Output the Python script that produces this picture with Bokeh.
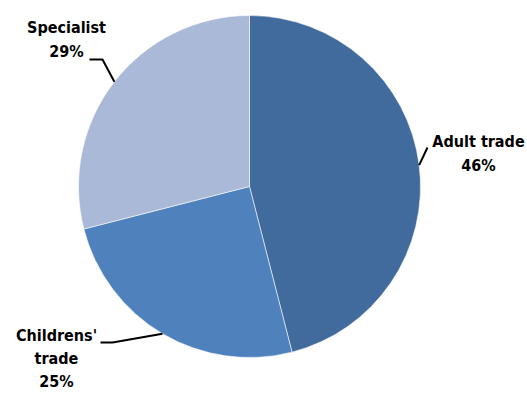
import math
from bokeh.plotting import figure
from bokeh.models import Range1d
from bokeh.core.properties import value
from bokeh.embed import file_html
from bokeh.resources import INLINE

# Data
categories = ["Adult trade", "Childrens' trade", "Specialist"]
shares = [46, 25, 29]
label_lines = [["Adult trade", "46%"], ["Childrens'", "trade", "25%"], ["Specialist", "29%"]]
colors = ["#416B9D", "#4F81BD", "#AAB9D8"]

W, H = 527, 393
p = figure(width=W, height=H, output_backend="svg", toolbar_location=None,
           x_range=Range1d(0, W), y_range=Range1d(0, H), min_border=0)
p.axis.visible = False
p.grid.visible = False
p.outline_line_color = None
p.background_fill_color = "white"
p.border_fill_color = "white"

def px(x, y):
    # page pixel -> data coords
    return x, H - y

cx, cy = px(249, 186)
R = 171

total = sum(shares)
start = math.pi / 2
starts, ends, mids = [], [], []
for s in shares:
    a = 2 * math.pi * s / total
    starts.append(start)
    ends.append(start - a)
    mids.append(start - a / 2)
    start -= a

p.wedge(x=[cx] * 3, y=[cy] * 3, radius=R, start_angle=starts, end_angle=ends,
        direction="clock", fill_color=colors, line_color="white", line_width=0.8,
        line_alpha=0.7)

# label positions (page pixels): center x, first line center y
label_pos = [(478, 141), (56, 335), (66, 27)]
line_gaps = [24, 23, 24]
# elbow (page pixels) for leader lines; None for straight
elbows = [None, (112, 342), (102, 59)]
ends_pt = [(427, 147), (100, 342), (89, 59)]

font = value("DejaVu Sans Condensed, Roboto Condensed, Roboto, sans-serif")
for i in range(3):
    ax = cx + R * math.cos(mids[i])
    ay = cy + R * math.sin(mids[i])
    xs, ys = [ax], [ay]
    if elbows[i] is not None:
        ex, ey = px(*elbows[i])
        xs.append(ex); ys.append(ey)
    ex, ey = px(*ends_pt[i])
    xs.append(ex); ys.append(ey)
    p.line(xs, ys, line_color="black", line_width=2)
    lx, ly = label_pos[i]
    for j, t in enumerate(label_lines[i]):
        tx, ty = px(lx, ly + j * line_gaps[i])
        p.text(x=[tx], y=[ty], text=[t], text_align="center", text_baseline="middle",
               text_font=font, text_font_style="bold", text_font_size="16px",
               text_color="black")

open("out.html", "w").write(file_html(p, INLINE))
